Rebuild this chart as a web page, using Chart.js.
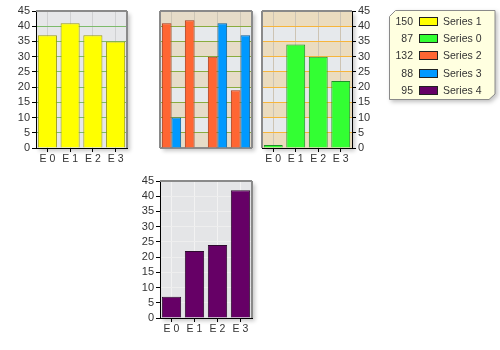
<!DOCTYPE html>
<html>
<head>
<meta charset="utf-8">
<script src="https://cdn.jsdelivr.net/npm/chart.js@4/dist/chart.umd.min.js"></script>
<style>
  body { margin: 0; background: #fff; font-family: "Liberation Sans", Arial, sans-serif; }
  #wrap { position: relative; width: 500px; height: 350px; }
  canvas { position: absolute; }
  #legend { position: absolute; left: 389px; top: 10px; width: 107px; height: 90px;
            filter: drop-shadow(2px 2px 2px rgba(0,0,0,0.25)); }
  #legend svg { position: absolute; left: 0; top: 0; }
  .row { position: absolute; left: 0; height: 12px; font-size: 10.5px; color: #333; line-height: 12px; }
  .val { position: absolute; right: 0; width: 24px; text-align: right; }
  .sw { position: absolute; width: 17px; height: 7px; border: 1px solid #222; }
  .nm { position: absolute; white-space: nowrap; }
</style>
</head>
<body>
<div id="wrap">
  <canvas id="c1" width="140" height="170" style="left:0;top:0"></canvas>
  <canvas id="c2" width="110" height="170" style="left:150px;top:0"></canvas>
  <canvas id="c3" width="130" height="170" style="left:255px;top:0"></canvas>
  <canvas id="c4" width="140" height="170" style="left:120px;top:170px"></canvas>
  <div id="legend"></div>
</div>
<script>
// datos
const categories = ['E 0', 'E 1', 'E 2', 'E 3'];
const series0 = [1, 34, 30, 22];
const series1 = [37, 41, 37, 35];
const series2 = [41, 42, 30, 19];
const series3 = [10, null, 41, 37];
const series4 = [7, 22, 24, 42];
const yMax = 45;
const yStep = 5;

const legendNames = ['Series 1', 'Series 0', 'Series 2', 'Series 3', 'Series 4'];
const legendData = [series1, series0, series2, series3, series4];
const legendColors = ['#ffff00', '#33ff33', '#ff6633', '#0099ff', '#660066'];

// fondo del area, bandas y marco gris
const panelBg = {
  id: 'panelBg',
  beforeDraw(chart, args, opts) {
    const { ctx, chartArea: a } = chart;
    const y = chart.scales.y;
    ctx.save();
    ctx.shadowColor = 'rgba(0,0,0,0.22)';
    ctx.shadowBlur = 4;
    ctx.shadowOffsetX = 3;
    ctx.shadowOffsetY = 3;
    ctx.fillStyle = opts.base;
    ctx.fillRect(a.left, a.top, a.width, a.height);
    ctx.restore();
    if (opts.band) {
      ctx.save();
      ctx.fillStyle = opts.band;
      for (let v = 0; v < yMax; v += yStep * 2) {
        const top = y.getPixelForValue(v + yStep);
        const bot = y.getPixelForValue(v);
        ctx.fillRect(a.left, top, a.width, bot - top);
      }
      ctx.restore();
    }
  },
  beforeDatasetsDraw(chart, args, opts) {
    const { ctx, chartArea: a } = chart;
    ctx.save();
    ctx.strokeStyle = '#8a8a8a';
    ctx.lineWidth = 2;
    ctx.beginPath();
    const sides = opts.frame || [];
    if (sides.includes('top')) { ctx.moveTo(a.left, a.top); ctx.lineTo(a.right, a.top); }
    if (sides.includes('right')) { ctx.moveTo(a.right, a.top); ctx.lineTo(a.right, a.bottom); }
    if (sides.includes('bottom')) { ctx.moveTo(a.left, a.bottom); ctx.lineTo(a.right, a.bottom); }
    if (sides.includes('left')) { ctx.moveTo(a.left, a.top); ctx.lineTo(a.left, a.bottom); }
    ctx.stroke();
    ctx.restore();
  }
};

const tickFont = { family: '"Liberation Sans", Arial, sans-serif', size: 11 };

function yAxis(gridColor, position, width, show) {
  return {
    position: position,
    min: 0,
    max: yMax,
    ticks: { display: show, stepSize: yStep, autoSkip: false, color: '#333', font: tickFont, padding: 2 },
    grid: { color: gridColor, tickColor: '#000', tickLength: 4, drawTicks: show },
    border: { display: show, color: '#000', width: 1 },
    afterFit(s) { s.width = width; }
  };
}

function xAxis(gridColor, show) {
  return {
    offset: true,
    ticks: { display: show, autoSkip: false, maxRotation: 0, color: '#333', font: { family: tickFont.family, size: 10.5 }, padding: 1 },
    grid: { offset: false, color: gridColor, tickColor: '#000', tickLength: 4, drawTicks: show },
    border: { display: show, color: '#000', width: 1 },
    afterFit(s) { s.height = show ? 22 : 0; }
  };
}

function makeChart(id, datasets, opts) {
  return new Chart(document.getElementById(id), {
    type: 'bar',
    data: { labels: categories, datasets: datasets },
    options: {
      responsive: false,
      animation: false,
      devicePixelRatio: 1,
      layout: { padding: opts.padding },
      plugins: {
        legend: { display: false },
        tooltip: { enabled: false },
        panelBg: { base: opts.base, band: opts.band, frame: opts.frame }
      },
      scales: { x: opts.x, y: opts.y }
    },
    plugins: [panelBg]
  });
}

// panel superior izquierdo
makeChart('c1', [{
  label: 'Series 1', data: series1,
  backgroundColor: '#ffff00', borderColor: '#9a9a10', borderWidth: 1,
  barPercentage: 0.84, categoryPercentage: 1
}], {
  padding: { left: 0, right: 13, top: 11, bottom: 0 },
  base: '#e6e7e9', band: null, frame: ['top', 'right'],
  x: xAxis('#cfd0d2', true), y: yAxis('#7dbb6c', 'left', 36, true)
});

// panel del medio, barras agrupadas
makeChart('c2', [{
  label: 'Series 2', data: series2,
  backgroundColor: '#ff6633', borderColor: '#a83818', borderWidth: 1,
  barPercentage: 1, categoryPercentage: 0.84
}, {
  label: 'Series 3', data: series3,
  backgroundColor: '#0099ff', borderColor: '#0b5e98', borderWidth: 1,
  barPercentage: 1, categoryPercentage: 0.84
}], {
  padding: { left: 10, right: 8, top: 11, bottom: 22 },
  base: '#e6e9ec', band: '#e6dcc8', frame: ['top', 'right', 'bottom', 'left'],
  x: xAxis('#cdc6b6', false), y: yAxis('#8aac3e', 'left', 0, false)
});

// panel superior derecho
makeChart('c3', [{
  label: 'Series 0', data: series0,
  backgroundColor: '#33ff33', borderColor: '#1f8f2a', borderWidth: 1,
  barPercentage: 0.84, categoryPercentage: 1
}], {
  padding: { left: 7, right: 0, top: 11, bottom: 0 },
  base: '#e6e9ec', band: '#ebdcbf', frame: ['top', 'left'],
  x: xAxis('#cdc4b4', true), y: yAxis('#f6b53c', 'right', 33, true)
});

// panel inferior
makeChart('c4', [{
  label: 'Series 4', data: series4,
  backgroundColor: '#660066', borderColor: '#2e0a2e', borderWidth: 1,
  barPercentage: 0.84, categoryPercentage: 1
}], {
  padding: { left: 0, right: 8, top: 11, bottom: 0 },
  base: '#e4e5e7', band: null, frame: ['top', 'right'],
  x: xAxis('#f2f2f2', true), y: yAxis('#eeeeee', 'left', 40, true)
});

// leyenda con sumas
const legend = document.getElementById('legend');
legend.innerHTML = '<svg width="107" height="90"><polygon points="6.5,0.5 106,0.5 106,84 100,89.5 0.5,89.5 0.5,6.5" fill="#ffffe0" stroke="#8a8a8a" stroke-width="1"/></svg>';
legendNames.forEach((name, i) => {
  const total = legendData[i].reduce((s, v) => s + (v || 0), 0);
  const row = document.createElement('div');
  row.className = 'row';
  row.style.top = (5 + 17.2 * i) + 'px';
  row.style.width = '107px';
  row.innerHTML =
    '<span class="val" style="left:0;width:24px">' + total + '</span>' +
    '<span class="sw" style="left:30px;top:2px;background:' + legendColors[i] + '"></span>' +
    '<span class="nm" style="left:54px">' + name + '</span>';
  legend.appendChild(row);
});
</script>
</body>
</html>
